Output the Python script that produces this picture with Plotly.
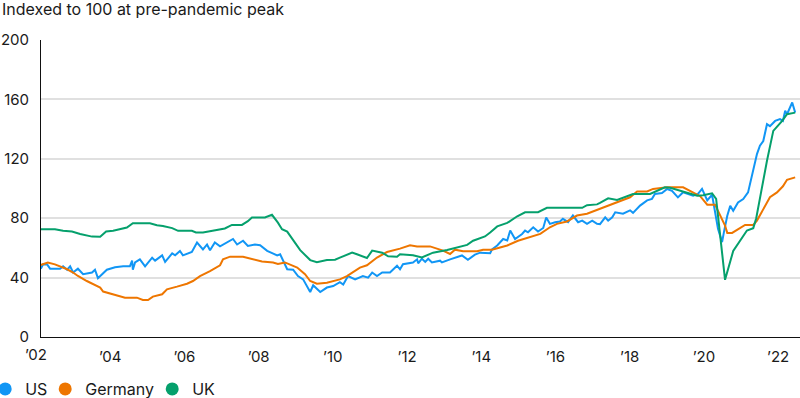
import plotly.graph_objects as go

# ---- data (decimal years, index values) ----
us_years = [2002.13, 2002.19, 2002.30, 2002.38, 2002.65, 2002.73, 2002.84, 2002.92, 2003.00, 2003.13,
            2003.27, 2003.51, 2003.59, 2003.67, 2003.91, 2004.13, 2004.35, 2004.53, 2004.59, 2004.61,
            2004.67, 2004.80, 2004.94, 2005.13, 2005.21, 2005.40, 2005.48, 2005.67, 2005.75, 2005.88,
            2005.96, 2006.20, 2006.34, 2006.42, 2006.50, 2006.61, 2006.69, 2006.82, 2006.96, 2007.31,
            2007.42, 2007.58, 2007.71, 2007.90, 2008.04, 2008.23, 2008.50, 2008.58, 2008.77, 2008.93,
            2009.06, 2009.20, 2009.39, 2009.47, 2009.66, 2009.84, 2010.01, 2010.19, 2010.28, 2010.41,
            2010.60, 2010.81, 2010.95, 2011.06, 2011.19, 2011.33, 2011.54, 2011.73, 2011.81, 2011.89,
            2012.16, 2012.27, 2012.30, 2012.40, 2012.49, 2012.57, 2012.67, 2012.89, 2012.94, 2013.16,
            2013.48, 2013.64, 2013.83, 2013.97, 2014.24, 2014.29, 2014.43, 2014.59, 2014.70, 2014.78,
            2014.91, 2015.10, 2015.18, 2015.26, 2015.40, 2015.53, 2015.67, 2015.75, 2015.85, 2015.99,
            2016.12, 2016.20, 2016.34, 2016.47, 2016.61, 2016.72, 2016.85, 2016.99, 2017.12, 2017.20,
            2017.34, 2017.42, 2017.53, 2017.61, 2017.82, 2018.01, 2018.09, 2018.28, 2018.47, 2018.60,
            2018.68, 2018.87, 2019.01, 2019.14, 2019.30, 2019.44, 2019.71, 2019.84, 2019.95, 2020.09,
            2020.22, 2020.38, 2020.49, 2020.54, 2020.63, 2020.71, 2020.79, 2020.92, 2021.06, 2021.19,
            2021.33, 2021.43, 2021.51, 2021.60, 2021.70, 2021.78, 2021.92, 2022.05, 2022.13, 2022.19,
            2022.24, 2022.38, 2022.46]
us_values = [46.0, 49.0, 48.9, 46.0, 46.0, 47.6, 45.3, 47.6, 43.4, 46.0,
             42.3, 43.4, 45.3, 39.6, 45.3, 47.0, 47.6, 47.6, 51.4, 45.3,
             50.2, 52.3, 47.6, 53.4, 51.4, 55.0, 50.6, 56.3, 55.0, 57.9,
             55.0, 57.2, 63.6, 61.3, 59.0, 62.3, 58.4, 63.6, 61.0, 66.0,
             62.3, 64.8, 61.3, 62.3, 61.8, 58.0, 55.0, 55.7, 45.6, 45.3,
             41.0, 38.8, 30.3, 34.8, 30.3, 33.3, 34.3, 36.9, 35.3, 41.0,
             38.8, 41.0, 40.0, 43.4, 41.0, 43.4, 43.4, 48.0, 45.6, 49.0,
             50.2, 52.3, 49.6, 52.7, 50.6, 52.7, 50.2, 51.4, 50.2, 52.3,
             54.9, 52.0, 55.5, 56.8, 56.4, 59.0, 61.6, 66.0, 65.0, 71.7,
             66.0, 69.4, 71.7, 70.5, 73.9, 71.0, 73.4, 80.5, 76.2, 77.3,
             77.8, 79.6, 77.3, 81.8, 77.3, 78.4, 76.2, 78.4, 76.2, 76.0,
             80.6, 78.3, 80.6, 84.0, 83.0, 85.3, 83.6, 88.5, 92.0, 93.0,
             96.3, 97.0, 99.7, 98.5, 94.0, 97.5, 95.2, 96.3, 99.7, 92.0,
             95.8, 72.8, 63.9, 70.6, 81.7, 88.4, 85.0, 90.6, 92.9, 97.4,
             112.0, 123.2, 128.8, 132.0, 143.3, 142.0, 145.5, 146.7, 145.5, 152.4,
             150.0, 157.9, 151.1]

de_years = [2002.13, 2002.32, 2002.51, 2002.84, 2003.00, 2003.13, 2003.37, 2003.73, 2003.81, 2004.08,
            2004.40, 2004.72, 2004.88, 2005.02, 2005.15, 2005.40, 2005.53, 2005.80, 2006.07, 2006.23,
            2006.42, 2006.69, 2006.96, 2007.04, 2007.23, 2007.58, 2007.85, 2008.09, 2008.39, 2008.52,
            2008.71, 2009.04, 2009.25, 2009.39, 2009.57, 2009.84, 2010.19, 2010.38, 2010.73, 2010.92,
            2011.19, 2011.46, 2011.81, 2012.08, 2012.27, 2012.62, 2012.97, 2013.16, 2013.29, 2013.51,
            2013.89, 2014.05, 2014.29, 2014.70, 2014.99, 2015.59, 2015.85, 2016.04, 2016.31, 2016.58,
            2016.85, 2017.20, 2017.47, 2017.74, 2018.01, 2018.20, 2018.47, 2018.63, 2019.01, 2019.44,
            2019.63, 2019.90, 2020.09, 2020.30, 2020.57, 2020.63, 2020.76, 2021.11, 2021.33, 2021.43,
            2021.78, 2021.97, 2022.13, 2022.24, 2022.46]
de_values = [48.5, 50.2, 48.9, 45.6, 43.4, 41.1, 37.7, 33.3, 30.6, 28.8,
             26.5, 26.5, 24.9, 24.9, 27.2, 28.8, 32.1, 33.9, 35.9, 37.7,
             41.0, 44.4, 48.3, 52.3, 54.1, 54.1, 52.3, 50.9, 50.2, 49.2,
             50.2, 46.8, 42.3, 37.7, 35.9, 36.6, 38.8, 41.0, 46.7, 48.3,
             53.5, 57.2, 59.5, 61.8, 61.0, 61.0, 58.2, 55.9, 58.8, 57.7,
             57.7, 58.8, 58.8, 61.6, 64.8, 69.4, 73.9, 76.2, 77.8, 81.8,
             83.0, 86.4, 89.0, 91.8, 94.1, 98.0, 98.0, 99.7, 100.8, 100.8,
             98.5, 94.8, 89.1, 89.1, 75.0, 70.1, 70.1, 75.5, 75.5, 78.4,
             94.1, 97.4, 101.5, 105.9, 107.5]

uk_years = [2002.13, 2002.51, 2002.73, 2002.97, 2003.19, 2003.51, 2003.73, 2003.89, 2004.08, 2004.45,
            2004.61, 2005.07, 2005.26, 2005.42, 2005.67, 2005.83, 2006.20, 2006.31, 2006.50, 2006.77,
            2007.09, 2007.28, 2007.55, 2007.71, 2007.82, 2008.17, 2008.36, 2008.52, 2008.63, 2008.77,
            2009.12, 2009.39, 2009.57, 2009.84, 2010.06, 2010.19, 2010.52, 2010.65, 2010.92, 2011.06,
            2011.33, 2011.49, 2011.73, 2011.81, 2011.95, 2012.16, 2012.40, 2012.70, 2013.08, 2013.43,
            2013.62, 2013.78, 2014.10, 2014.24, 2014.43, 2014.70, 2014.97, 2015.18, 2015.53, 2015.77,
            2016.72, 2016.85, 2017.12, 2017.20, 2017.42, 2017.66, 2018.09, 2018.55, 2018.95, 2019.09,
            2019.44, 2019.82, 2019.98, 2020.22, 2020.33, 2020.57, 2020.79, 2020.98, 2021.16, 2021.33,
            2021.41, 2021.70, 2021.87, 2022.11, 2022.24, 2022.46]
uk_values = [72.6, 72.6, 71.5, 71.0, 69.4, 67.6, 67.5, 71.0, 71.5, 73.7,
             76.6, 76.6, 75.3, 74.8, 73.3, 71.5, 71.5, 70.4, 70.4, 71.5,
             73.1, 75.5, 75.5, 78.0, 80.5, 80.5, 82.3, 77.0, 72.6, 71.0,
             58.5, 51.8, 50.4, 51.8, 52.0, 53.4, 56.8, 55.7, 53.2, 58.2,
             56.8, 54.3, 54.1, 55.7, 55.5, 55.1, 53.6, 56.8, 58.6, 60.5,
             62.0, 64.8, 67.7, 70.4, 74.5, 76.8, 81.3, 84.0, 84.0, 87.0,
             87.0, 88.8, 89.3, 90.3, 93.4, 92.3, 96.3, 96.3, 100.8, 100.5,
             97.9, 95.2, 95.5, 96.8, 93.0, 38.5, 57.9, 65.0, 71.7, 73.3,
             80.0, 118.7, 138.8, 145.5, 150.0, 151.1]

series_names = ["US", "Germany", "UK"]
series_colors = ["#1196F5", "#EE7600", "#05A06C"]
tick_years = [2004, 2006, 2008, 2010, 2012, 2014, 2016, 2018, 2020, 2022]
tick_labels = ["’04", "’06", "’08", "’10", "’12", "’14", "’16", "’18", "’20", "’22"]
first_tick_year = 2002
first_tick_label = "’02"
y_ticks = [0, 40, 80, 120, 160, 200]
title_text = "Indexed to 100 at pre-pandemic peak"
x_range = [2002.135, 2022.59]

FONT = "Inter, Roboto, sans-serif"
TXT = "#1a1a1a"

fig = go.Figure()
for xs, ys, name, color in zip([us_years, de_years, uk_years],
                               [us_values, de_values, uk_values],
                               series_names, series_colors):
    fig.add_trace(go.Scatter(x=xs, y=ys, mode="lines", name=name,
                             line=dict(color=color, width=2),
                             showlegend=False, hoverinfo="skip"))

legend_widths = [15, 62, 30]
for name, color, lw in zip(series_names, series_colors, legend_widths):
    fig.add_trace(go.Scatter(x=[None], y=[None], mode="markers", name=name,
                             marker=dict(size=13, color=color),
                             legendwidth=lw, showlegend=True))

fig.update_layout(
    width=800, height=398,
    margin=dict(l=41, r=0, t=40, b=61, autoexpand=False),
    paper_bgcolor="white", plot_bgcolor="white",
    font=dict(family=FONT, size=15, color=TXT),
    showlegend=True,
    legend=dict(orientation="h", x=-0.0735, xanchor="left", y=-0.175, yanchor="middle",
                font=dict(family=FONT, size=16, color=TXT), itemsizing="trace",
                bgcolor="rgba(0,0,0,0)", borderwidth=0, tracegroupgap=0),
    xaxis=dict(range=x_range, tickmode="array", tickvals=tick_years, automargin=False,
               ticktext=tick_labels, showgrid=False, zeroline=False,
               showline=True, linecolor="#111", linewidth=1, ticks="",
               ticklabelstandoff=6, tickfont=dict(size=15, color=TXT)),
    yaxis=dict(range=[0, 200], tickmode="array", tickvals=y_ticks, automargin=False,
               showgrid=True, gridcolor="#e0e0e0", gridwidth=2, zeroline=False,
               showline=True, linecolor="#111", linewidth=1, ticks="",
               ticklabelstandoff=8, tickfont=dict(size=15, color=TXT)),
)
first_tick_pos = (first_tick_year - x_range[0]) / (x_range[1] - x_range[0])
fig.add_annotation(x=first_tick_pos, y=0, xref="paper", yref="paper", text=first_tick_label,
                   showarrow=False, xanchor="center", yanchor="top", yshift=-6,
                   font=dict(family=FONT, size=15, color=TXT))
fig.add_annotation(x=0, y=1, xref="paper", yref="paper", text=title_text,
                   showarrow=False, xanchor="left", yanchor="middle", xshift=-41, yshift=31,
                   font=dict(family=FONT, size=16, color=TXT))

fig.write_html("out.html", config={"displayModeBar": False},
               post_script="document.body.style.margin='0';document.body.style.overflow='hidden';")
